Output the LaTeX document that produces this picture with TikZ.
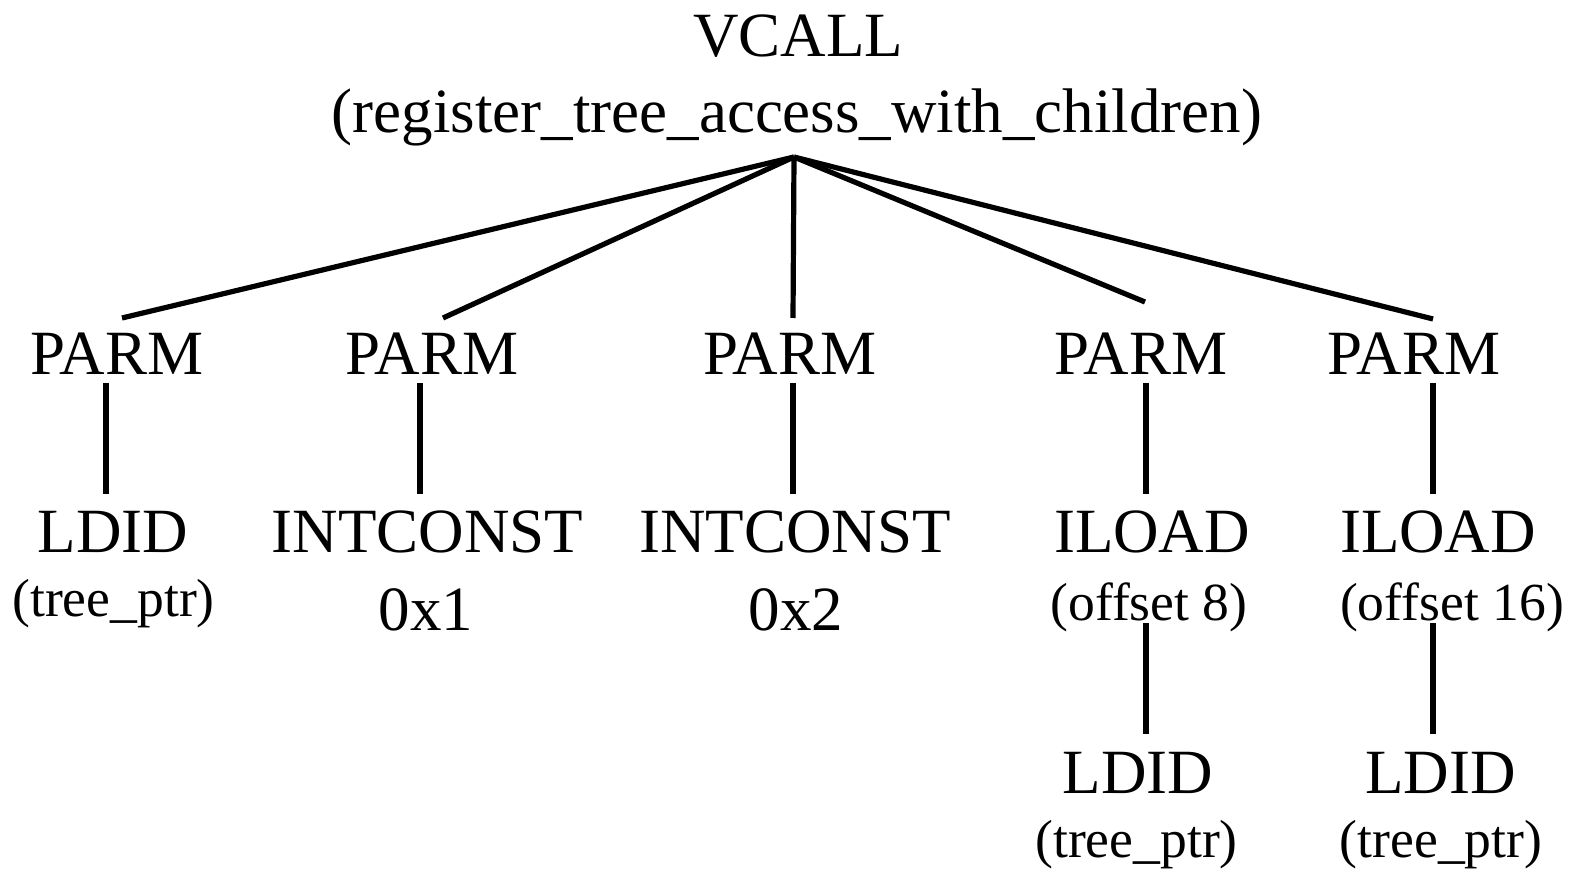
\documentclass[tikz,border=0pt]{standalone}
\usepackage{fontspec}
\setmainfont{Liberation Serif}
\usetikzlibrary{calc}
\tikzset{
  big/.style={anchor=base, inner sep=0pt, font=\fontsize{31.5}{38}\selectfont},
  small/.style={anchor=base, inner sep=0pt, font=\fontsize{26.8}{32}\selectfont},
  edge/.style={line width=2.6pt, line cap=butt}
}
\begin{document}
\begin{tikzpicture}[x=0.5pt, y=-0.5pt]
\useasboundingbox (0,0) rectangle (1574,870);

% root
\node[big] (vcall) at (798,57) {VCALL};
\node[big] (args) at (797,133) {(register\_tree\_access\_with\_children)};
\coordinate (hub) at ($(args.base)+(-3,24)$);

% parameters
\node[big] (p1) at (117,375) {PARM};
\node[big] (p2) at (432,375) {PARM};
\node[big] (p3) at (790,375) {PARM};
\node[big] (p4) at (1141,375) {PARM};
\node[big] (p5) at (1414,375) {PARM};

% argument expressions
\node[big] (c1) at (113,553) {LDID};
\node[small] (c1s) at (113.5,617) {(tree\_ptr)};
\node[big] (c2) at (427.5,553) {INTCONST};
\node[big] (c2s) at (426,631) {0x1};
\node[big] (c3) at (795,553) {INTCONST};
\node[big] (c3s) at (796,631) {0x2};
\node[big] (c4) at (1152,553) {ILOAD};
\node[small] (c4s) at (1149,621) {(offset 8)};
\node[big] (c5) at (1438,553) {ILOAD};
\node[small] (c5s) at (1452,621) {(offset 16)};

% loaded addresses
\node[big] (l4) at (1138,793) {LDID};
\node[small] (l4s) at (1136.5,857) {(tree\_ptr)};
\node[big] (l5) at (1440.5,793) {LDID};
\node[small] (l5s) at (1441,857) {(tree\_ptr)};

% root to parameters
\draw[edge] (hub) -- ($(p1.base)+(5,-57)$);
\draw[edge] (hub) -- ($(p2.base)+(11,-57)$);
\draw[edge] (hub) -- ($(p3.base)+(3,-57)$);
\draw[edge] (hub) -- ($(p4.base)+(4,-73)$);
\draw[edge] (hub) -- ($(p5.base)+(19,-56)$);

% parameters to expressions
\draw[edge] ($(p1.base)+(-11,8)$) -- ($(c1.base)+(-7,-59)$);
\draw[edge] ($(p2.base)+(-12,8)$) -- ($(c2.base)+(-7.5,-59)$);
\draw[edge] ($(p3.base)+(3,8)$) -- ($(c3.base)+(-2,-59)$);
\draw[edge] ($(p4.base)+(5,8)$) -- ($(c4.base)+(-6,-59)$);
\draw[edge] ($(p5.base)+(19,8)$) -- ($(c5.base)+(-5,-59)$);

% loads to their base pointers
\draw[edge] ($(c4.base)+(-6,70)$) -- ($(l4.base)+(8,-59)$);
\draw[edge] ($(c5.base)+(-5,70)$) -- ($(l5.base)+(-7.5,-59)$);
\end{tikzpicture}
\end{document}
